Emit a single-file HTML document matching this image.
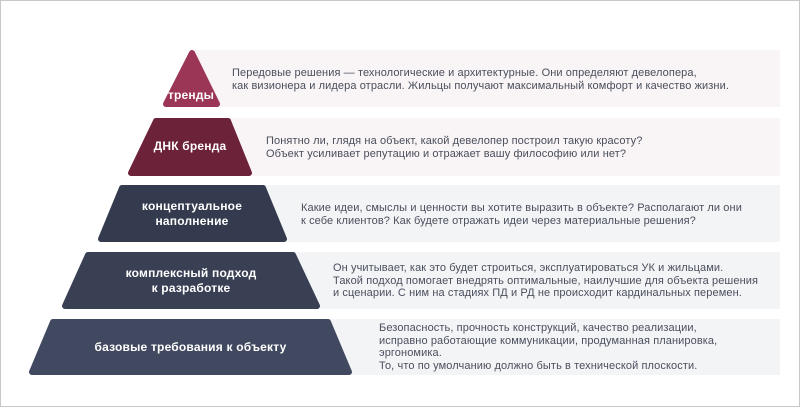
<!DOCTYPE html>
<html><head><meta charset="utf-8"><style>
body{margin:0;width:800px;height:407px;overflow:hidden;background:#fff;font-family:"Liberation Sans",sans-serif}
.frame{position:absolute;left:0;top:0;width:798px;height:405px;border:1px solid #c8c8c8}
.band{position:absolute;right:20px}
.t{position:absolute;font-size:11px;letter-spacing:0.1px;line-height:12.5px;color:#4a4f5c;white-space:nowrap}
.l{position:absolute;color:#fff;font-weight:bold;font-size:12px;line-height:15px;text-align:center;white-space:nowrap;letter-spacing:0.2px}
</style></head><body>
<div class="frame"></div>
<div class="band" style="left:190px;top:50px;height:57px;background:#f9f4f5"></div>
<div class="band" style="left:190px;top:118px;height:58px;background:#f9f4f5"></div>
<div class="band" style="left:190px;top:185px;height:57px;background:#f3f4f6"></div>
<div class="band" style="left:190px;top:252px;height:57px;background:#f3f4f6"></div>
<div class="band" style="left:190px;top:319px;height:56px;background:#f3f4f6"></div>
<svg style="position:absolute;left:0;top:0" width="800" height="407">
<g stroke-linejoin="round" stroke-width="6">
<polygon points="192,53 217,104 166,104" fill="#9c3656" stroke="#9c3656"/>
<polygon points="156,121 228,121 249,173 131,173" fill="#6c2239" stroke="#6c2239"/>
<polygon points="122,188 263,188 284,239 101,239" fill="#353b4e" stroke="#353b4e"/>
<polygon points="88,255 293,255 317,306 65,306" fill="#3a4054" stroke="#3a4054"/>
<polygon points="53,322 328,322 349,372 32,372" fill="#414960" stroke="#414960"/>
</g></svg>
<div class="l" style="left:160px;top:88px;width:62px">тренды</div>
<div class="l" style="left:130px;top:139px;width:120px">ДНК бренда</div>
<div class="l" style="left:102px;top:199px;width:180px">концептуальное<br>наполнение</div>
<div class="l" style="left:66px;top:266px;width:250px">комплексный подход<br>к разработке</div>
<div class="l" style="left:32px;top:340px;width:317px">базовые требования к объекту</div>
<div class="t" style="left:232px;top:67px">Передовые решения — технологические и архитектурные. Они определяют девелопера,<br>как визионера и лидера отрасли. Жильцы получают максимальный комфорт и качество жизни.</div>
<div class="t" style="left:266px;top:135px">Понятно ли, глядя на объект, какой девелопер построил такую красоту?<br>Объект усиливает репутацию и отражает вашу философию или нет?</div>
<div class="t" style="left:301px;top:202px">Какие идеи, смыслы и ценности вы хотите выразить в объекте? Располагают ли они<br>к себе клиентов? Как будете отражать идеи через материальные решения?</div>
<div class="t" style="left:333px;top:262px">Он учитывает, как это будет строиться, эксплуатироваться УК и жильцами.<br>Такой подход помогает внедрять оптимальные, наилучшие для объекта решения<br>и сценарии. С ним на стадиях ПД и РД не происходит кардинальных перемен.</div>
<div class="t" style="left:379px;top:322px">Безопасность, прочность конструкций, качество реализации,<br>исправно работающие коммуникации, продуманная планировка,<br>эргономика.<br>То, что по умолчанию должно быть в технической плоскости.</div>
</body></html>
